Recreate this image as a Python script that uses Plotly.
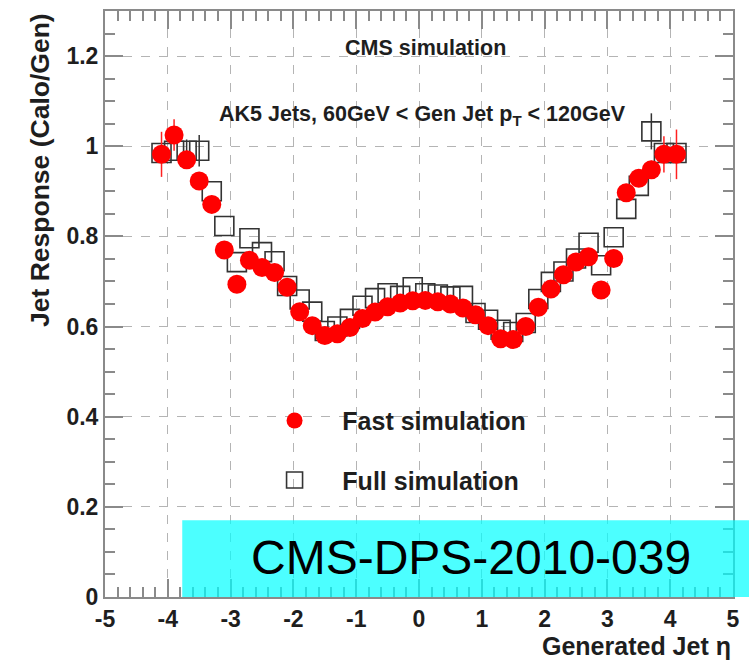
import plotly.graph_objects as go

# Generated jet eta bin centres
eta = [-4.1, -3.9, -3.7, -3.5, -3.3, -3.1, -2.9, -2.7, -2.5, -2.3, -2.1,
       -1.9, -1.7, -1.5, -1.3, -1.1, -0.9, -0.7, -0.5, -0.3, -0.1,
       0.1, 0.3, 0.5, 0.7, 0.9, 1.1, 1.3, 1.5, 1.7, 1.9,
       2.1, 2.3, 2.5, 2.7, 2.9, 3.1, 3.3, 3.5, 3.7, 3.9, 4.1]

# Fast simulation response (red circles)
fast = [0.982, 1.025, 0.970, 0.923, 0.871, 0.770, 0.694, 0.747, 0.731, 0.720, 0.687,
        0.633, 0.602, 0.580, 0.584, 0.598, 0.618, 0.632, 0.644, 0.652, 0.657,
        0.658, 0.655, 0.650, 0.641, 0.626, 0.602, 0.573, 0.571, 0.600, 0.643,
        0.683, 0.715, 0.743, 0.755, 0.681, 0.751, 0.897, 0.929, 0.948, 0.982, 0.982]
fast_err = [0.05, 0.035, 0.02, 0.01, 0.01, 0.01, 0.01, 0.01, 0.01, 0.01, 0.01,
            0.005, 0.005, 0.005, 0.005, 0.005, 0.005, 0.005, 0.005, 0.005, 0.005,
            0.005, 0.005, 0.005, 0.005, 0.005, 0.005, 0.005, 0.005, 0.005, 0.005,
            0.01, 0.01, 0.01, 0.01, 0.01, 0.01, 0.01, 0.01, 0.02, 0.04, 0.055]

# Full simulation response (open squares)
full = [0.985, 0.99, 0.99, 0.99, 0.90, 0.823, 0.743, 0.796, 0.765, 0.745, 0.69,
        0.66, 0.633, 0.59, 0.60, 0.617, 0.646, 0.663, 0.674, 0.668, 0.687,
        0.674, 0.671, 0.667, 0.668, 0.63, 0.615, 0.593, 0.588, 0.608, 0.661,
        0.699, 0.722, 0.751, 0.786, 0.736, 0.798, 0.861, 0.912, 1.033, 0.985, 0.985]
full_err = [0.0, 0.0, 0.025, 0.035, 0.0, 0.0, 0.0, 0.0, 0.0, 0.0, 0.0,
            0.0, 0.0, 0.0, 0.0, 0.0, 0.0, 0.0, 0.0, 0.0, 0.0,
            0.0, 0.0, 0.0, 0.0, 0.0, 0.0, 0.0, 0.0, 0.0, 0.0,
            0.0, 0.0, 0.0, 0.0, 0.0, 0.0, 0.0, 0.0, 0.04, 0.0, 0.0]

x_tickvals = [-5, -4, -3, -2, -1, 0, 1, 2, 3, 4, 5]
x_ticktext = ["-5", "-4", "-3", "-2", "-1", "0", "1", "2", "3", "4", "5"]
y_tickvals = [0, 0.2, 0.4, 0.6, 0.8, 1.0, 1.2]
y_ticktext = ["0", "0.2", "0.4", "0.6", "0.8", "1", "1.2"]

FONT = "Liberation Sans, Arial, Helvetica, sans-serif"
AXIS_GREY = "#8a8a8a"
GRID_GREY = "#b4b4b4"
TXT = "#1e1e1e"

fig = go.Figure()

fig.add_trace(go.Scatter(
    x=eta, y=full, mode="markers", name="\u00a0\u00a0\u00a0\u00a0Full simulation",
    legendgroup="full", legendrank=2,
    marker=dict(symbol="square-open", size=19, color="#333333",
                line=dict(width=1.6, color="#333333")),
    error_y=dict(type="data", array=full_err, color="#333333", thickness=1.5, width=0),
))
fig.add_trace(go.Scatter(
    x=eta, y=fast, mode="markers", name="\u00a0\u00a0\u00a0\u00a0Fast simulation",
    legendgroup="fast", legendrank=1,
    marker=dict(symbol="circle", size=19, color="#ff0000", line=dict(width=0)),
    error_y=dict(type="data", array=fast_err, color="#ff2020", thickness=1.5, width=0),
))

axis_common = dict(
    showline=True, linecolor=AXIS_GREY, linewidth=2, mirror="ticks",
    ticks="inside", tickcolor=AXIS_GREY, tickwidth=1.5, ticklen=18,
    showgrid=True, gridcolor=GRID_GREY, gridwidth=1, griddash="dash",
    zeroline=False,
    tickfont=dict(family=FONT, size=23, color=TXT, weight="bold"),
)

fig.update_xaxes(
    range=[-5, 5], tickmode="array", tickvals=x_tickvals, ticktext=x_ticktext,
    minor=dict(ticks="inside", dtick=0.2, ticklen=10, tickcolor=AXIS_GREY, tickwidth=1.5, showgrid=False),
    **axis_common,
)
fig.update_yaxes(
    range=[0, 1.3], tickmode="array", tickvals=y_tickvals, ticktext=y_ticktext,
    minor=dict(ticks="inside", dtick=0.05, ticklen=10, tickcolor=AXIS_GREY, tickwidth=1.5, showgrid=False),
    **axis_common,
)

# cyan label box
fig.add_shape(type="rect", xref="paper", yref="paper",
              x0=0.123, x1=1.03, y0=0.0, y1=0.131,
              fillcolor="#00ffff", opacity=0.7, line=dict(width=0), layer="above")

fig.add_annotation(text="CMS-DPS-2010-039", xref="paper", yref="paper",
                   x=0.583, y=0.068, showarrow=False, xanchor="center", yanchor="middle",
                   font=dict(family=FONT, size=48, color="#000000"))

fig.add_annotation(text="CMS simulation", xref="paper", yref="paper",
                   x=0.511, y=0.937, showarrow=False, xanchor="center", yanchor="middle",
                   font=dict(family=FONT, size=21.5, color=TXT, weight="bold"))
fig.add_annotation(text="AK5 Jets, 60GeV &lt; Gen Jet p<sub>T</sub> &lt; 120GeV",
                   xref="paper", yref="paper",
                   x=0.506, y=0.821, showarrow=False, xanchor="center", yanchor="middle",
                   font=dict(family=FONT, size=21.5, color=TXT, weight="bold"))

fig.add_annotation(text="Jet Response (Calo/Gen)", xref="paper", yref="paper",
                   x=0, y=1, xshift=-65, showarrow=False, textangle=-90,
                   xanchor="center", yanchor="top",
                   font=dict(family=FONT, size=26.5, color=TXT, weight="bold"))
fig.add_annotation(text="Generated Jet \u03b7", xref="paper", yref="paper",
                   x=1, y=0, yshift=-33, showarrow=False,
                   xanchor="right", yanchor="top",
                   font=dict(family=FONT, size=25, color=TXT, weight="bold"))

fig.update_layout(
    width=749, height=665,
    margin=dict(l=105, r=9, t=10, b=68),
    paper_bgcolor="white", plot_bgcolor="white",
    showlegend=True,
    legend=dict(x=0.27, y=0.34, xanchor="left", yanchor="top",
                bgcolor="rgba(0,0,0,0)", borderwidth=0, tracegroupgap=24,
                font=dict(family=FONT, size=25, color=TXT, weight="bold"),
                itemsizing="trace"),
)

fig.write_html("out.html")
